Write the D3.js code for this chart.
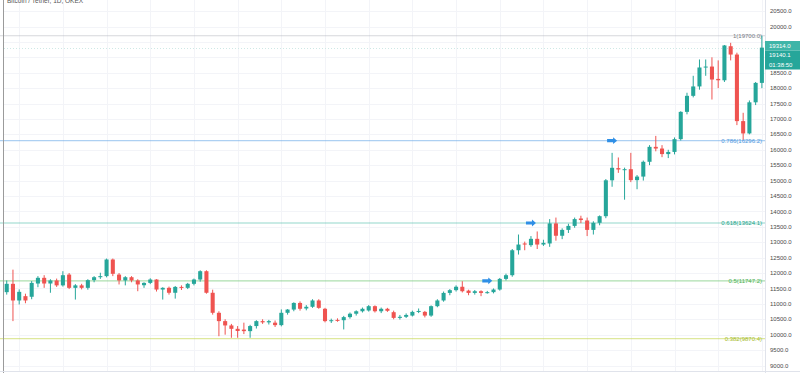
<!DOCTYPE html>
<html>
<head>
<meta charset="utf-8">
<script src="https://cdn.jsdelivr.net/npm/d3@7"></script>
<style>
  body { margin: 0; background: #fff; }
  svg { display: block; font-family: "Liberation Sans", Arial, sans-serif; }
</style>
</head>
<body>
<div id="chart"></div>
<script>
// chart size
var svgWidth = 800;
var svgHeight = 373;

// daily candles, 1 Aug 2020 .. 30 Nov 2020
var days = d3.timeDay.range(new Date(2020, 7, 1), new Date(2020, 11, 1));

var open = [11380, 11650, 11110, 11250, 11230, 11660, 11845, 11660, 11760, 11600,
  11950, 11520, 11600, 11520, 11770, 11865, 11900, 12440, 11950, 11760,
  11865, 11760, 11605, 11680, 11790, 11465, 11520, 11360, 11550, 11520,
  11650, 11790, 12060, 11360, 10710, 10440, 10300, 10190, 10165, 10115,
  10280, 10440, 10400, 10390, 10310, 10710, 10815, 11030, 10850, 10905,
  11110, 10840, 10440, 10480, 10470, 10570, 10680, 10760, 10785, 10925,
  10760, 10840, 10730, 10545, 10580, 10620, 10740, 10740, 10620, 10925,
  11110, 11355, 11445, 11555, 11430, 11355, 11410, 11355, 11380, 11465,
  11810, 11930, 12740, 12960, 12905, 13110, 12925, 12960, 13610, 13210,
  13400, 13530, 13770, 13705, 13400, 13630, 13845, 15010, 15405, 15360,
  15370, 15015, 15130, 15610, 16095, 16040, 15860, 15930, 16345, 17230,
  17750, 18055, 18670, 18700, 18300, 18255, 19360, 19090, 16930, 16530,
  17540, 18170];
var high = [11760, 12110, 11470, 11330, 11740, 11900, 11930, 11800, 11820, 12060,
  12000, 11640, 11650, 11800, 11900, 12010, 12470, 12470, 12000, 11900,
  11900, 11800, 11700, 11830, 11800, 11540, 11560, 11580, 11600, 11680,
  11820, 12090, 12090, 11460, 10760, 10500, 10350, 10280, 10390, 10320,
  10470, 10500, 10480, 10460, 10820, 10830, 11050, 11080, 10960, 11150,
  11150, 10870, 10520, 10530, 10610, 10720, 10790, 10880, 10960, 10950,
  10880, 10870, 10780, 10640, 10690, 10780, 10850, 10770, 10950, 11150,
  11400, 11480, 11600, 11735, 11460, 11450, 11440, 11420, 11500, 11840,
  11980, 12780, 13250, 13020, 13200, 13350, 13080, 13750, 13800, 13450,
  13600, 13800, 13860, 13800, 13680, 13870, 15050, 15900, 15750, 15420,
  15900, 15180, 15650, 16150, 16450, 16150, 16000, 16400, 17250, 17850,
  18400, 18930, 18930, 19000, 18900, 19400, 19470, 19150, 17200, 17600,
  18200, 19700];
var low = [11300, 10440, 10980, 11020, 11150, 11540, 11520, 11360, 11550, 11560,
  11480, 11140, 11470, 11460, 11700, 11810, 11860, 11900, 11630, 11600,
  11700, 11410, 11520, 11640, 11400, 11140, 11300, 11170, 11450, 11480,
  11600, 11720, 11330, 10650, 9950, 10000, 9900, 9900, 10020, 9900,
  10200, 10350, 10330, 10250, 10270, 10650, 10760, 10780, 10790, 10870,
  10840, 10400, 10380, 10420, 10170, 10520, 10620, 10720, 10750, 10720,
  10700, 10740, 10500, 10490, 10540, 10590, 10700, 10560, 10580, 10890,
  11070, 11280, 11400, 11370, 11280, 11300, 11250, 11330, 11340, 11430,
  11760, 11880, 12600, 12740, 12850, 12780, 12880, 12850, 13050, 13100,
  13300, 13470, 13620, 13200, 13250, 13550, 13780, 14800, 15250, 14380,
  14950, 14720, 15000, 15500, 15950, 15760, 15730, 15850, 16300, 17150,
  17700, 17950, 18400, 17630, 18000, 18200, 18900, 16800, 16330, 16500,
  17450, 18000];
var close = [11650, 11110, 11390, 11110, 11680, 11845, 11660, 11760, 11600, 11930,
  11520, 11600, 11520, 11770, 11865, 11900, 12440, 11975, 11760, 11865,
  11760, 11630, 11680, 11790, 11465, 11520, 11360, 11550, 11520, 11650,
  11790, 12060, 11360, 10710, 10440, 10300, 10190, 10120, 10115, 10280,
  10440, 10400, 10440, 10310, 10710, 10815, 11030, 10840, 10905, 11110,
  10870, 10440, 10470, 10450, 10570, 10680, 10760, 10840, 10925, 10760,
  10840, 10775, 10545, 10580, 10640, 10740, 10770, 10620, 10925, 11110,
  11355, 11445, 11555, 11410, 11355, 11410, 11355, 11380, 11465, 11810,
  11930, 12740, 12925, 12925, 13110, 12925, 12980, 13610, 13210, 13400,
  13530, 13750, 13720, 13400, 13630, 13845, 15010, 15415, 15360, 15370,
  15015, 15130, 15610, 16095, 16040, 15860, 15930, 16345, 17230, 17750,
  18055, 18670, 18700, 18280, 18255, 19385, 19090, 16930, 16530, 17540,
  18170, 19314];

// fibonacci retracement levels and their prices
var fibLevels = [1, 0.786, 0.618, 0.5, 0.382];
var fibPrices = [19700.0, 16296.2, 13624.1, 11747.2, 9870.4];
var fibLineColors = ["#b4b7bf", "#6aa9e8", "#3db8a0", "#6cc56f", "#c3d64a"];
var fibTextColors = ["#787b86", "#4f97dd", "#22a389", "#4caf50", "#a5bb2e"];

// blue arrow markers: candle index + fib price
var arrowIdx = [77, 84, 97];
var arrowPrice = [11747.2, 13624.1, 16296.2];

// price axis ticks (19000 / 19500 sit under the last-price boxes)
var priceTicks = [9000, 9500, 10000, 10500, 11000, 11500, 12000, 12500, 13000, 13500,
  14000, 14500, 15000, 15500, 16000, 16500, 17000, 17500, 18000, 18500, 20000, 20500];
var gridTicks = d3.range(9000, 21001, 500);
var lastLabels = ["19314.0", "19140.1", "01:38:50"];

var svg = d3.select("#chart").append("svg")
  .attr("width", svgWidth)
  .attr("height", svgHeight);

svg.append("rect").attr("width", svgWidth).attr("height", svgHeight).attr("fill", "#fff");

var x = d3.scaleBand()
  .domain(days.map((d, i) => i))
  .range([3.6, 765])
  .paddingInner(0.35)
  .paddingOuter(0.175);

var y = d3.scaleLinear()
  .domain([9000, 20000])
  .range([365.5, 26.5]);

var cx = i => x(i) + x.bandwidth() / 2;

// grid: horizontal at price ticks, vertical on mondays
svg.append("g").selectAll("line")
  .data(gridTicks)
  .enter().append("line")
  .attr("x1", 4).attr("x2", 765)
  .attr("y1", d => Math.round(y(d)) + 0.5)
  .attr("y2", d => Math.round(y(d)) + 0.5)
  .attr("stroke", "#f3f4f8");

var mondays = days.map((d, i) => i).filter(i => days[i].getDay() === 1);
svg.append("g").selectAll("line")
  .data(mondays)
  .enter().append("line")
  .attr("x1", d => Math.round(cx(d)) + 0.5)
  .attr("x2", d => Math.round(cx(d)) + 0.5)
  .attr("y1", 0).attr("y2", 371)
  .attr("stroke", "#f3f4f8");

// fib lines
var fib = svg.append("g");
fib.selectAll("line")
  .data(fibPrices)
  .enter().append("line")
  .attr("x1", 0).attr("x2", 765)
  .attr("y1", d => y(d))
  .attr("y2", d => y(d))
  .attr("stroke-width", 1.2)
  .attr("stroke-opacity", 0.55)
  .attr("stroke", (d, i) => fibLineColors[i]);

// last price line
svg.append("line")
  .attr("x1", 4).attr("x2", 765)
  .attr("y1", Math.round(y(close[close.length - 1])) + 0.5)
  .attr("y2", Math.round(y(close[close.length - 1])) + 0.5)
  .attr("stroke", "#cfe9e6")
  .attr("stroke-dasharray", "1,2");

// candles
var candles = svg.append("g").selectAll("g")
  .data(days)
  .enter().append("g")
  .attr("fill", (d, i) => close[i] >= open[i] ? "#26a69a" : "#ef5350")
  .attr("stroke", (d, i) => close[i] >= open[i] ? "#26a69a" : "#ef5350");

candles.append("line")
  .attr("x1", (d, i) => cx(i))
  .attr("x2", (d, i) => cx(i))
  .attr("y1", (d, i) => y(high[i]))
  .attr("y2", (d, i) => y(low[i]))
  .attr("stroke-width", 1);

candles.append("rect")
  .attr("x", (d, i) => x(i))
  .attr("width", x.bandwidth())
  .attr("y", (d, i) => y(Math.max(open[i], close[i])))
  .attr("height", (d, i) => Math.max(1, Math.abs(y(open[i]) - y(close[i]))))
  .attr("stroke", "none");

// arrows
svg.append("g").selectAll("path")
  .data(arrowIdx)
  .enter().append("path")
  .attr("transform", (d, i) => `translate(${cx(d)},${y(arrowPrice[i])})`)
  .attr("d", "M-5,-1.6 L1,-1.6 L1,-3.4 L5,0 L1,3.4 L1,1.6 L-5,1.6 Z")
  .attr("fill", "#2f8fe6");

// fib labels
fib.selectAll("text")
  .data(fibPrices)
  .enter().append("text")
  .attr("x", 762)
  .attr("y", d => y(d))
  .attr("dy", "0.35em")
  .attr("text-anchor", "end")
  .attr("font-size", 6)
  .attr("fill", (d, i) => fibTextColors[i])
  .text((d, i) => `${fibLevels[i]}(${d.toFixed(1)})`);

// price axis
svg.append("line")
  .attr("x1", 765.5).attr("x2", 765.5)
  .attr("y1", 0).attr("y2", svgHeight)
  .attr("stroke", "#e0e3eb");

svg.append("g").selectAll("text")
  .data(priceTicks)
  .enter().append("text")
  .attr("x", 770)
  .attr("y", d => y(d))
  .attr("dy", "0.35em")
  .attr("font-size", 6)
  .attr("fill", "#4a4a4a")
  .text(d => d.toFixed(1));

// last price boxes
var boxes = svg.append("g").selectAll("g")
  .data(lastLabels)
  .enter().append("g")
  .attr("transform", (d, i) => `translate(765,${41 + i * 9.5})`);
boxes.append("rect")
  .attr("width", 35).attr("height", 9.5)
  .attr("fill", (d, i) => i === 0 ? "#3fb5a8" : "#26a69a");
boxes.append("text")
  .attr("x", 4).attr("y", 4.75).attr("dy", "0.35em")
  .attr("font-size", 6)
  .attr("fill", "#fff")
  .text(d => d);

// borders
svg.append("line")
  .attr("x1", 3.5).attr("x2", 3.5).attr("y1", 0).attr("y2", svgHeight)
  .attr("stroke", "#9b9b9b");
svg.append("line")
  .attr("x1", 0).attr("x2", svgWidth).attr("y1", 371.5).attr("y2", 371.5)
  .attr("stroke", "#e0e3eb");

// title (cut at top, as in the source screenshot)
svg.append("text")
  .attr("x", 7).attr("y", 3)
  .attr("font-size", 6.5)
  .attr("fill", "#555")
  .text("Bitcoin / Tether, 1D, OKEX");
</script>
</body>
</html>
